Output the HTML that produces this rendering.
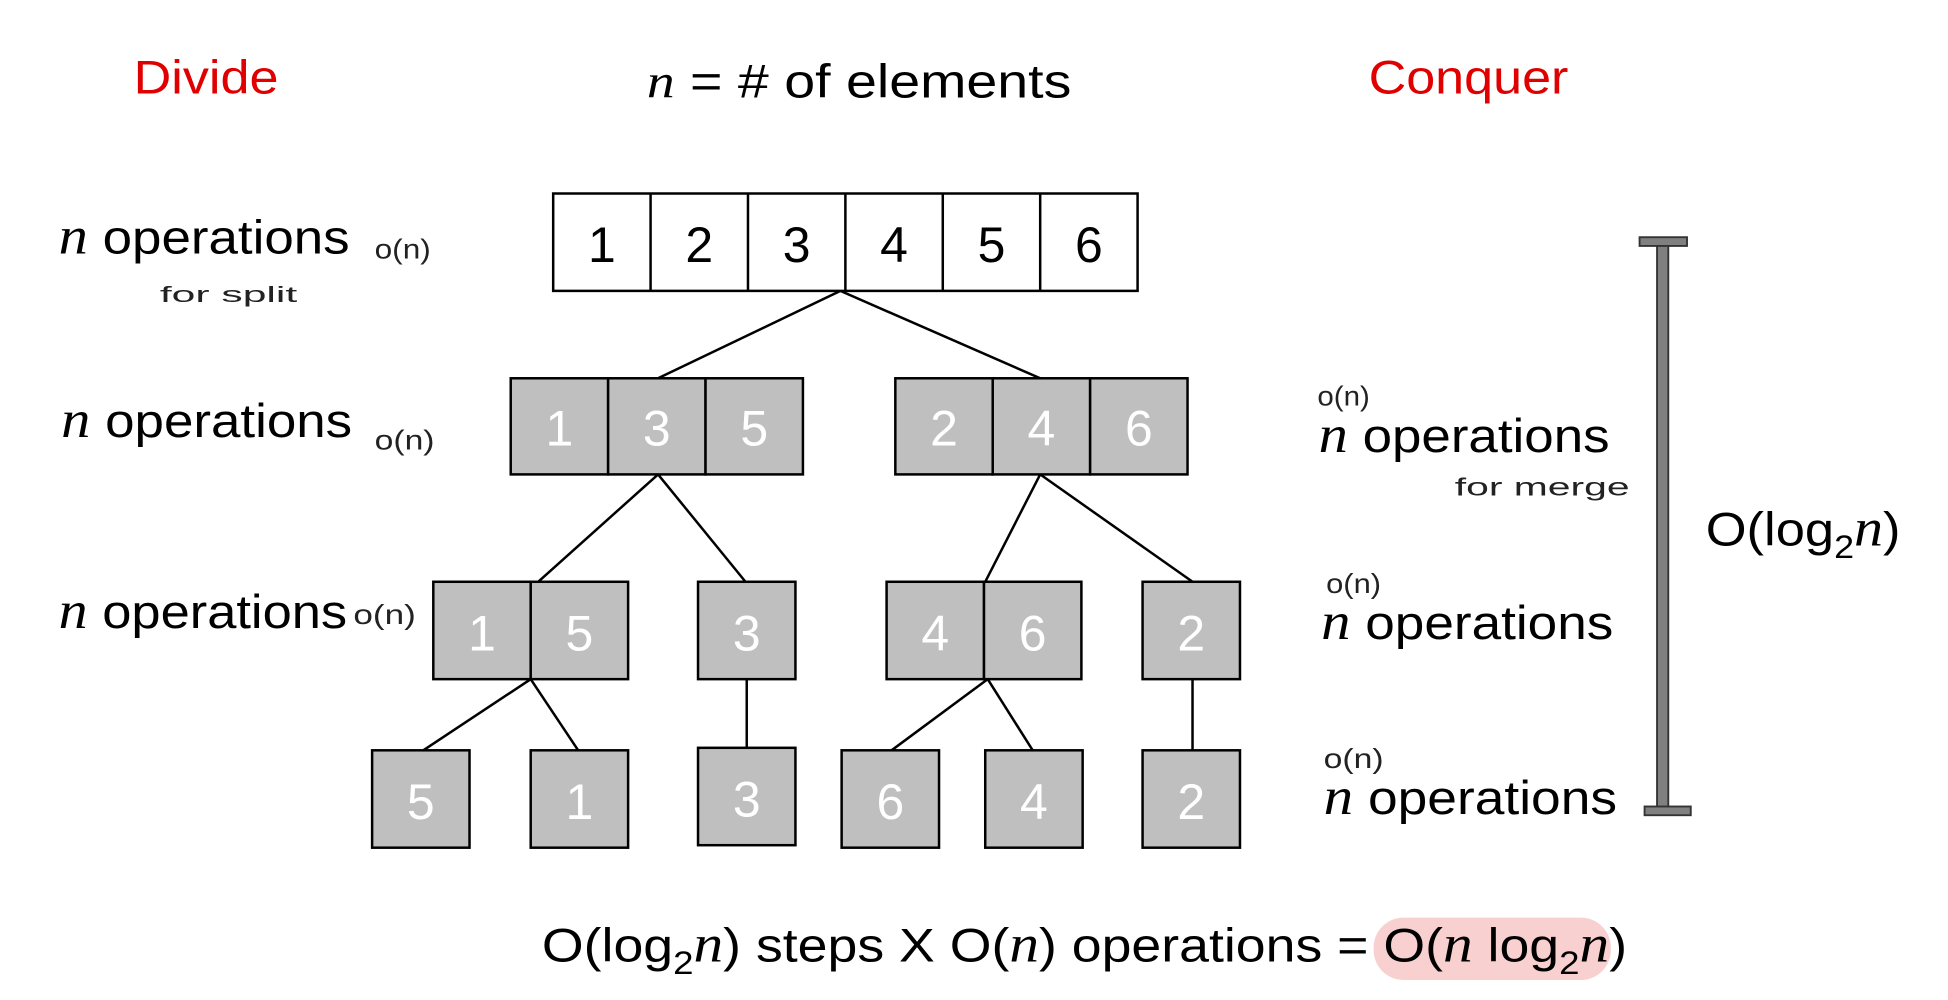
<!DOCTYPE html>
<html><head><meta charset="utf-8"><style>
html,body{margin:0;padding:0;background:#fff;}
svg{display:block;}
text{font-family:"Liberation Sans",sans-serif;}
.it{font-family:"Liberation Serif",serif;font-style:italic;}
.hw{font-family:"Liberation Sans",sans-serif;font-size:22px;fill:#222;}
</style></head><body>
<svg width="1948" height="1000" viewBox="0 0 1560 801" preserveAspectRatio="none" xmlns="http://www.w3.org/2000/svg">
<rect width="1560" height="801" fill="#fff"/>
<text x="107" y="75" font-size="38" fill="#e00000" textLength="116" lengthAdjust="spacingAndGlyphs">Divide</text>
<text x="1096" y="75" font-size="38" fill="#e00000" textLength="160" lengthAdjust="spacingAndGlyphs">Conquer</text>
<text x="518" y="78" font-size="38" fill="#000" textLength="340" lengthAdjust="spacingAndGlyphs"><tspan class="it">n</tspan> = # of elements</text>

<g stroke="#000" stroke-width="2">
<line x1="673" y1="233" x2="527" y2="303"/><line x1="673" y1="233" x2="833" y2="303"/>
<line x1="527" y1="380" x2="431" y2="466"/><line x1="527" y1="380" x2="597" y2="466"/>
<line x1="833" y1="380" x2="789" y2="466"/><line x1="833" y1="380" x2="955" y2="466"/>
<line x1="425" y1="544" x2="339" y2="601"/><line x1="425" y1="544" x2="463" y2="601"/>
<line x1="598" y1="544" x2="598" y2="599"/>
<line x1="791" y1="544" x2="714" y2="601"/><line x1="791" y1="544" x2="827" y2="601"/>
<line x1="955" y1="544" x2="955" y2="601"/>
</g>

<g stroke="#000" stroke-width="2" fill="#fff">
<rect x="443" y="155" width="468" height="78"/>
<line x1="521" y1="155" x2="521" y2="233"/><line x1="599" y1="155" x2="599" y2="233"/>
<line x1="677" y1="155" x2="677" y2="233"/><line x1="755" y1="155" x2="755" y2="233"/>
<line x1="833" y1="155" x2="833" y2="233"/>
</g>
<g font-size="40" text-anchor="middle" fill="#000">
<text x="482" y="210">1</text><text x="560" y="210">2</text><text x="638" y="210">3</text>
<text x="716" y="210">4</text><text x="794" y="210">5</text><text x="872" y="210">6</text>
</g>

<g stroke="#000" stroke-width="2" fill="#bfbfbf">
<rect x="409" y="303" width="78" height="77"/><rect x="487" y="303" width="78" height="77"/><rect x="565" y="303" width="78" height="77"/>
<rect x="717" y="303" width="78" height="77"/><rect x="795" y="303" width="78" height="77"/><rect x="873" y="303" width="78" height="77"/>
<rect x="347" y="466" width="78" height="78"/><rect x="425" y="466" width="78" height="78"/>
<rect x="559" y="466" width="78" height="78"/>
<rect x="710" y="466" width="78" height="78"/><rect x="788" y="466" width="78" height="78"/>
<rect x="915" y="466" width="78" height="78"/>
<rect x="298" y="601" width="78" height="78"/><rect x="425" y="601" width="78" height="78"/>
<rect x="559" y="599" width="78" height="78"/><rect x="674" y="601" width="78" height="78"/>
<rect x="789" y="601" width="78" height="78"/><rect x="915" y="601" width="78" height="78"/>
</g>
<g font-size="40" text-anchor="middle" fill="#fff">
<text x="448" y="357">1</text><text x="526" y="357">3</text><text x="604" y="357">5</text>
<text x="756" y="357">2</text><text x="834" y="357">4</text><text x="912" y="357">6</text>
<text x="386" y="521">1</text><text x="464" y="521">5</text><text x="598" y="521">3</text>
<text x="749" y="521">4</text><text x="827" y="521">6</text><text x="954" y="521">2</text>
<text x="337" y="656">5</text><text x="464" y="656">1</text><text x="598" y="654">3</text>
<text x="713" y="656">6</text><text x="828" y="656">4</text><text x="954" y="656">2</text>
</g>

<g font-size="38" fill="#000">
<text x="47" y="203" textLength="233" lengthAdjust="spacingAndGlyphs"><tspan class="it" font-size="42">n</tspan> operations</text>
<text x="49" y="350" textLength="233" lengthAdjust="spacingAndGlyphs"><tspan class="it" font-size="42">n</tspan> operations</text>
<text x="47" y="503" textLength="231" lengthAdjust="spacingAndGlyphs"><tspan class="it" font-size="42">n</tspan> operations</text>
<text x="1056" y="362" textLength="233" lengthAdjust="spacingAndGlyphs"><tspan class="it" font-size="42">n</tspan> operations</text>
<text x="1058" y="512" textLength="234" lengthAdjust="spacingAndGlyphs"><tspan class="it" font-size="42">n</tspan> operations</text>
<text x="1060" y="652" textLength="235" lengthAdjust="spacingAndGlyphs"><tspan class="it" font-size="42">n</tspan> operations</text>
</g>
<g class="hw">
<text x="300" y="207" textLength="45" lengthAdjust="spacingAndGlyphs">o(n)</text>
<text x="300" y="360" textLength="48" lengthAdjust="spacingAndGlyphs">o(n)</text>
<text x="283" y="500" textLength="50" lengthAdjust="spacingAndGlyphs">o(n)</text>
<text x="128" y="242" font-size="18" textLength="110" lengthAdjust="spacingAndGlyphs">for split</text>
<text x="1055" y="325" textLength="42" lengthAdjust="spacingAndGlyphs">o(n)</text>
<text x="1062" y="475" textLength="44" lengthAdjust="spacingAndGlyphs">o(n)</text>
<text x="1060" y="615" textLength="48" lengthAdjust="spacingAndGlyphs">o(n)</text>
<text x="1165" y="397" font-size="20" textLength="140" lengthAdjust="spacingAndGlyphs">for merge</text>
</g>

<rect x="1313" y="190" width="38" height="7" fill="#808080" stroke="#333" stroke-width="1.5"/>
<rect x="1327" y="197" width="9" height="450" fill="#808080" stroke="#333" stroke-width="1.5"/>
<rect x="1317" y="646" width="37" height="7" fill="#808080" stroke="#333" stroke-width="1.5"/>

<text x="1366" y="437" font-size="38" fill="#000" textLength="156" lengthAdjust="spacingAndGlyphs">O(log<tspan font-size="26" dy="10">2</tspan><tspan class="it" font-size="42" dy="-10">n</tspan>)</text>

<rect x="1100" y="735" width="190" height="50" rx="24" fill="#f8d0d0"/>
<text x="434" y="770" font-size="38" fill="#000" textLength="869" lengthAdjust="spacingAndGlyphs">O(log<tspan font-size="26" dy="10">2</tspan><tspan class="it" font-size="42" dy="-10">n</tspan>) steps X O(<tspan class="it" font-size="42">n</tspan>) operations = O(<tspan class="it" font-size="42">n</tspan> log<tspan font-size="26" dy="10">2</tspan><tspan class="it" font-size="42" dy="-10">n</tspan>)</text>
</svg>
</body></html>
